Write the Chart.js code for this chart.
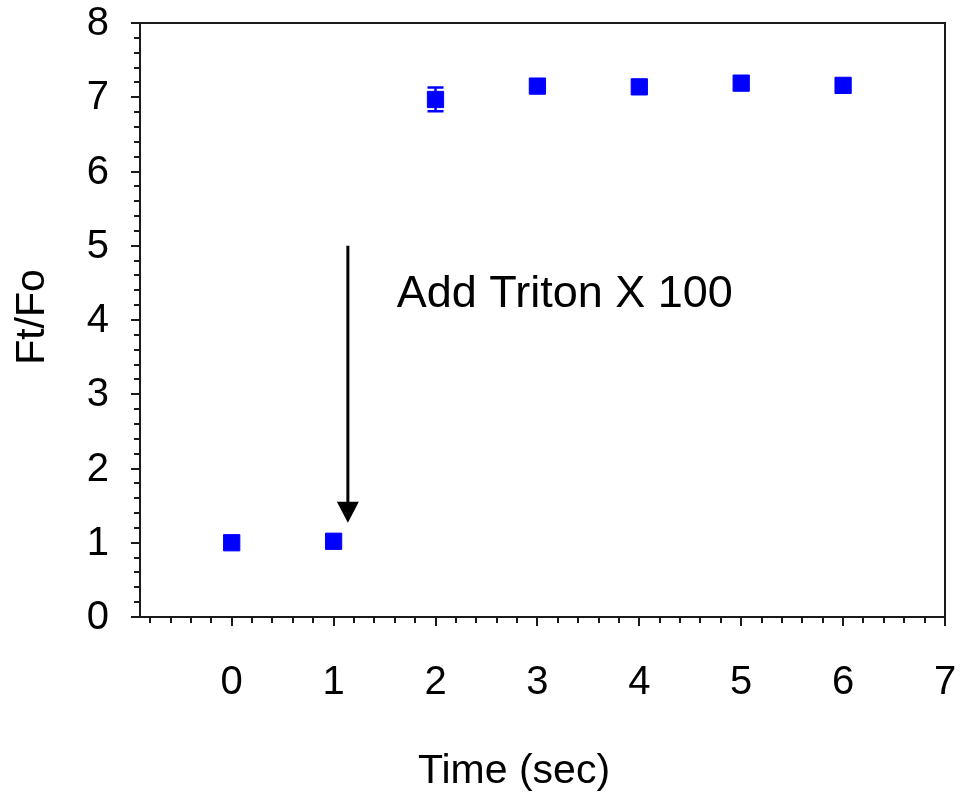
<!DOCTYPE html>
<html>
<head>
<meta charset="utf-8">
<script src="https://cdn.jsdelivr.net/npm/chart.js@4.4.1/dist/chart.umd.min.js"></script>
<style>
  html, body { margin: 0; padding: 0; background: #fff; }
  #wrap { width: 963px; height: 800px; }
</style>
</head>
<body>
<div id="wrap"><canvas id="chart" width="963" height="800"></canvas></div>
<script>
// ============= DATA =============
const timeSec = [0, 1, 2, 3, 4, 5, 6];
const ftFo = [1.0, 1.02, 6.97, 7.15, 7.14, 7.19, 7.16];
const ftFoErr = [0, 0, 0.16, 0, 0, 0, 0];

const xTickValues = [0, 1, 2, 3, 4, 5, 6, 7];
const yTickValues = [0, 1, 2, 3, 4, 5, 6, 7, 8];

const xTitle = 'Time (sec)';
const yTitle = 'Ft/Fo';
const annotationText = 'Add Triton X 100';
const arrowX = 1.14;
const arrowFrom = 5.0;
const arrowTo = 1.27;

const FONT = "'Liberation Sans', Arial, Helvetica, sans-serif";
const AXIS_COLOR = '#1a1a1a';
const MARK_COLOR = '#0000ff';

// ============= PLUGIN: frame, ticks, labels, error bars, arrow, titles =============
const extrasPlugin = {
    id: 'extras',
    afterDraw(chart) {
        const ctx = chart.ctx;
        const area = chart.chartArea;
        const xs = chart.scales.x;
        const ys = chart.scales.y;

        ctx.save();
        ctx.strokeStyle = AXIS_COLOR;
        ctx.lineWidth = 2;
        ctx.lineCap = 'butt';

        // frame
        ctx.strokeRect(area.left, area.top, area.right - area.left, area.bottom - area.top);

        // x ticks: minor every 0.2, major every 1
        ctx.beginPath();
        for (let i = -4; i <= 35; i++) {
            const px = Math.round(xs.getPixelForValue(i / 5));
            const len = (i % 5 === 0) ? 9 : 6;
            ctx.moveTo(px, area.bottom);
            ctx.lineTo(px, area.bottom + len);
        }
        // y ticks
        for (let i = 0; i <= 40; i++) {
            const py = Math.round(ys.getPixelForValue(i / 5));
            const len = (i % 5 === 0) ? 9 : 6;
            ctx.moveTo(area.left, py);
            ctx.lineTo(area.left - len, py);
        }
        ctx.stroke();

        // tick labels
        ctx.fillStyle = '#000';
        ctx.font = `40px ${FONT}`;
        ctx.textAlign = 'center';
        ctx.textBaseline = 'alphabetic';
        xTickValues.forEach(v => {
            ctx.fillText(String(v), xs.getPixelForValue(v), area.bottom + 77);
        });
        ctx.textAlign = 'right';
        ctx.textBaseline = 'middle';
        yTickValues.forEach(v => {
            ctx.fillText(String(v), area.left - 31, ys.getPixelForValue(v) + 1);
        });

        // error bars
        ctx.strokeStyle = MARK_COLOR;
        ctx.lineWidth = 2.5;
        ctx.beginPath();
        timeSec.forEach((t, i) => {
            const e = ftFoErr[i];
            if (!e) return;
            const px = xs.getPixelForValue(t);
            const top = ys.getPixelForValue(ftFo[i] + e);
            const bot = ys.getPixelForValue(ftFo[i] - e);
            ctx.moveTo(px, top); ctx.lineTo(px, bot);
            ctx.moveTo(px - 8, top); ctx.lineTo(px + 8, top);
            ctx.moveTo(px - 8, bot); ctx.lineTo(px + 8, bot);
        });
        ctx.stroke();

        // arrow
        const ax = xs.getPixelForValue(arrowX);
        const ay1 = ys.getPixelForValue(arrowFrom);
        const ay2 = ys.getPixelForValue(arrowTo);
        ctx.strokeStyle = '#000';
        ctx.fillStyle = '#000';
        ctx.lineWidth = 3;
        ctx.beginPath();
        ctx.moveTo(ax, ay1);
        ctx.lineTo(ax, ay2 - 18);
        ctx.stroke();
        ctx.beginPath();
        ctx.moveTo(ax - 11, ay2 - 21);
        ctx.lineTo(ax + 11, ay2 - 21);
        ctx.lineTo(ax, ay2);
        ctx.closePath();
        ctx.fill();

        // annotation text
        ctx.font = `45px ${FONT}`;
        ctx.textAlign = 'left';
        ctx.textBaseline = 'alphabetic';
        ctx.fillText(annotationText, xs.getPixelForValue(1.62), ys.getPixelForValue(4.18));

        // axis titles
        ctx.font = `41px ${FONT}`;
        ctx.textAlign = 'center';
        ctx.fillText(xTitle, 514, 783);
        ctx.save();
        ctx.translate(44, 317);
        ctx.rotate(-Math.PI / 2);
        ctx.fillText(yTitle, 0, 0);
        ctx.restore();

        ctx.restore();
    }
};

// ============= CHART =============
const ctx = document.getElementById('chart');
new Chart(ctx, {
    type: 'scatter',
    data: {
        datasets: [{
            data: timeSec.map((t, i) => ({ x: t, y: ftFo[i] })),
            pointStyle: 'rect',
            pointRadius: 11.5,
            pointHoverRadius: 11.5,
            backgroundColor: MARK_COLOR,
            borderColor: MARK_COLOR,
            borderWidth: 1
        }]
    },
    options: {
        responsive: false,
        animation: false,
        devicePixelRatio: 1,
        layout: { padding: { top: 23, right: 18, left: 0, bottom: 0 } },
        plugins: {
            legend: { display: false },
            tooltip: { enabled: false }
        },
        scales: {
            x: {
                type: 'linear',
                min: -0.9,
                max: 7,
                afterBuildTicks: (scale) => { scale.ticks = xTickValues.map(v => ({ value: v })); },
                afterFit: (scale) => { scale.height = 183; },
                grid: { display: false, drawTicks: false },
                border: { display: false },
                ticks: { display: false }
            },
            y: {
                type: 'linear',
                min: 0,
                max: 8,
                afterBuildTicks: (scale) => { scale.ticks = yTickValues.map(v => ({ value: v })); },
                afterFit: (scale) => { scale.width = 140; },
                grid: { display: false, drawTicks: false },
                border: { display: false },
                ticks: { display: false }
            }
        }
    },
    plugins: [extrasPlugin]
});
</script>
</body>
</html>
